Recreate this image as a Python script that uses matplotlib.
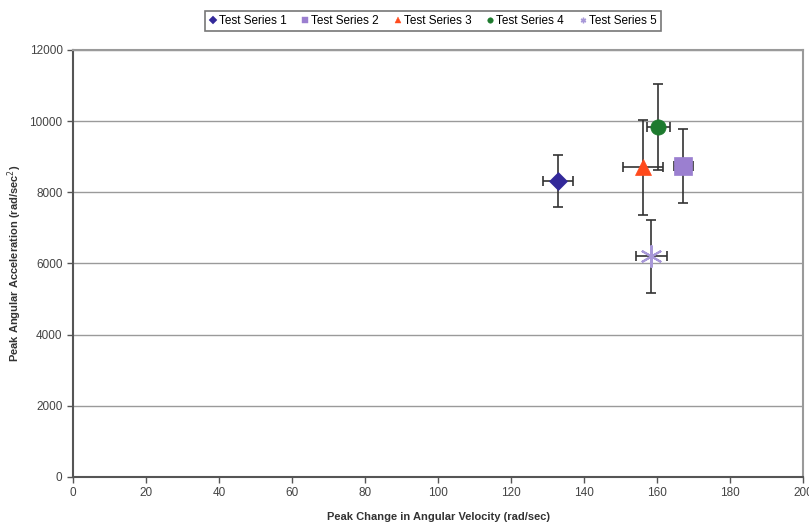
import numpy as np
import matplotlib
matplotlib.use("Agg")
import matplotlib.pyplot as plt

plt.rcParams['font.family'] = ['Liberation Sans', 'DejaVu Sans']

# datos
series = ["Test Series 1", "Test Series 2", "Test Series 3", "Test Series 4", "Test Series 5"]
vel = [132.9, 167.1, 156.2, 160.3, 158.4]
vel_err = [4.1, 2.6, 5.5, 3.1, 4.2]
acc = [8320, 8740, 8700, 9840, 6200]
acc_err = [730, 1040, 1340, 1210, 1030]

colores = ["#33299a", "#9b7fd0", "#ff4a1c", "#1d7a2e", "#a898d8"]
marcadores = ["D", "s", "^", "o", (6, 2, 0)]
tamanos = [9, 13, 11, 11, 16]

fig = plt.figure(figsize=(8.09, 5.23), dpi=100)
ax = fig.add_axes([0.0902, 0.088, 0.9026, 0.8165])

orden = [0, 2, 3, 1, 4]
for i in orden:
    ax.errorbar(vel[i], acc[i], xerr=vel_err[i], yerr=acc_err[i],
                fmt="none", ecolor="#333333", elinewidth=1.2, capsize=3.5, capthick=1.2, zorder=3)
for i in orden:
    ax.plot(vel[i], acc[i], linestyle="none", marker=marcadores[i], color=colores[i],
            markersize=tamanos[i], markeredgewidth=1.5 if i == 4 else 0.5,
            markeredgecolor=colores[i], zorder=4)

# entradas de la leyenda con marcadores pequenos
manejadores = []
for i in range(5):
    h, = ax.plot([], [], linestyle="none", marker=marcadores[i], color=colores[i],
                 markersize=4, markeredgewidth=1 if i == 4 else 0.3)
    manejadores.append(h)
leg = fig.legend(manejadores, series, loc="upper center", bbox_to_anchor=(0.535, 0.99),
                 ncol=5, fontsize=8.5, frameon=True, fancybox=False, edgecolor="#555555",
                 handlelength=0.6, handletextpad=0.2, columnspacing=1.3, borderpad=0.35)
leg.get_frame().set_linewidth(1.2)

ax.set_xlim(0, 200)
ax.set_ylim(0, 12000)
ax.set_xticks(np.arange(0, 201, 20))
ax.set_yticks(np.arange(0, 12001, 2000))
ax.yaxis.grid(True, color="#9a9a9a", linewidth=1)
ax.set_axisbelow(True)
for lado in ["top", "right"]:
    ax.spines[lado].set_color("#9a9a9a")
    ax.spines[lado].set_linewidth(1.5)
for lado in ["left", "bottom"]:
    ax.spines[lado].set_color("#555555")
    ax.spines[lado].set_linewidth(1.5)
ax.tick_params(direction="out", length=4, width=1, colors="#555555", labelsize=8.5, labelcolor="#444444")

ax.set_xlabel("Peak Change in Angular Velocity (rad/sec)", fontsize=8, fontweight="bold", color="#333333", labelpad=9)
ax.set_ylabel("Peak Angular Acceleration (rad/sec$^2$)", fontsize=8, fontweight="bold", color="#333333", labelpad=4)

fig.savefig("out.png", dpi=100)
